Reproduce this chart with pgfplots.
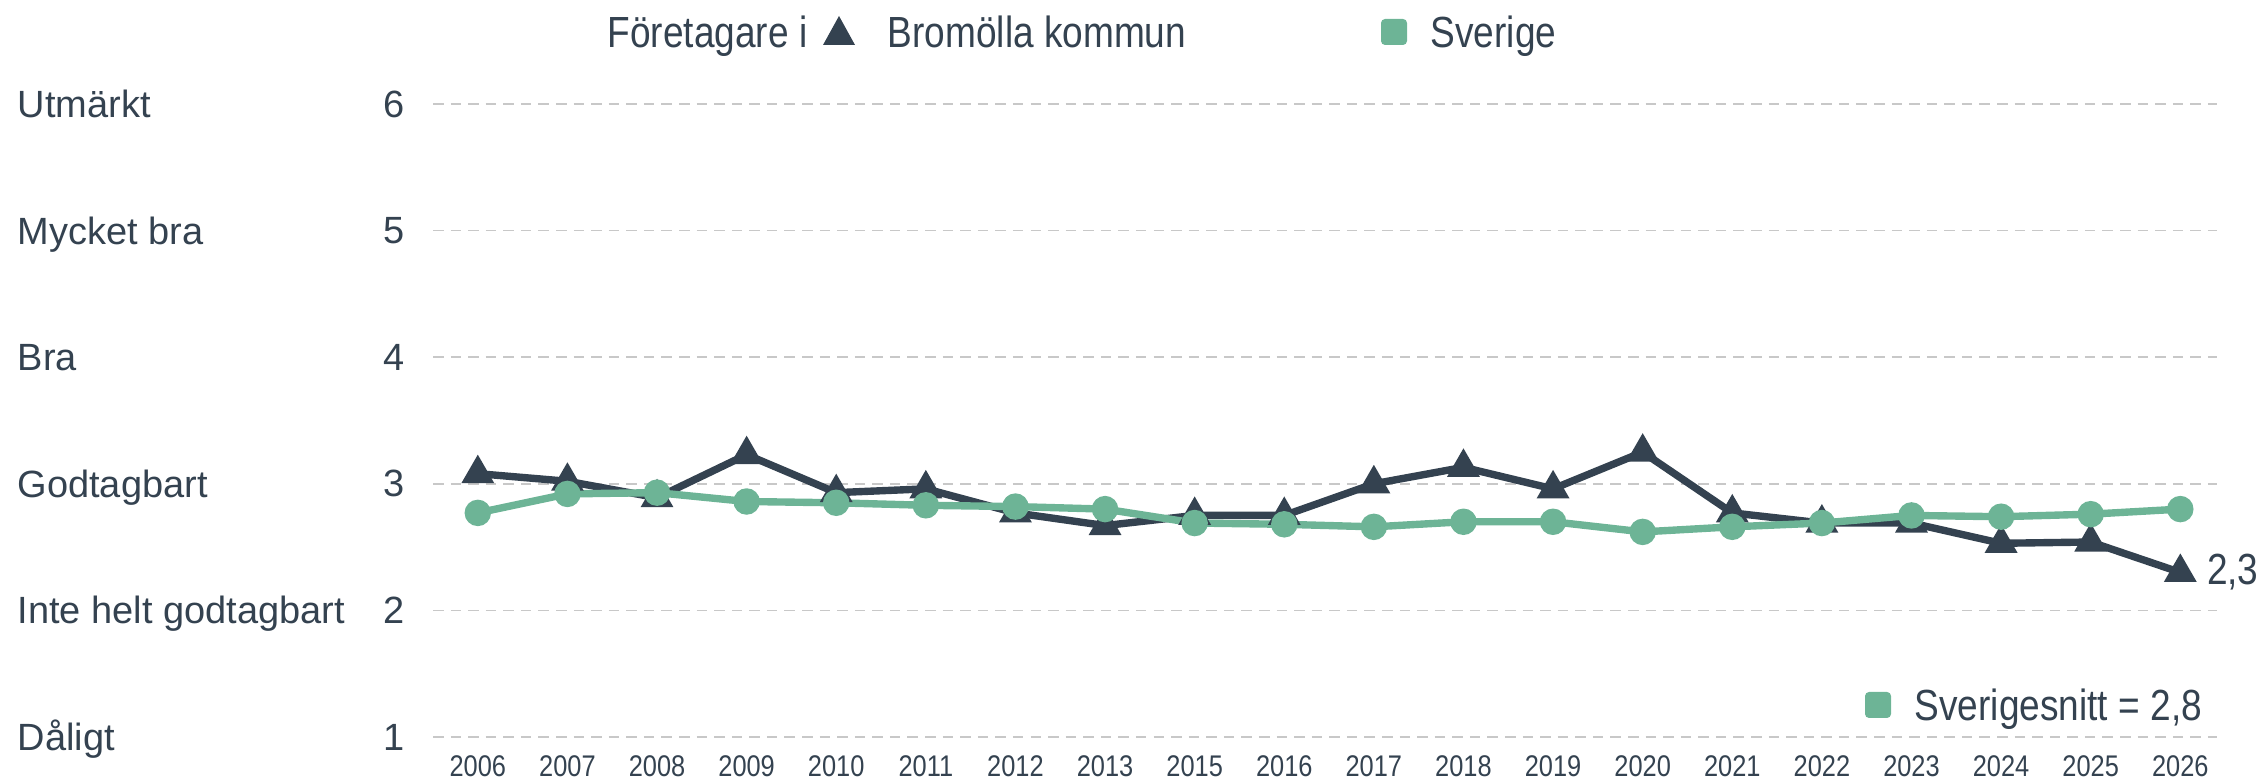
\documentclass[border=0pt]{standalone}
\usepackage{fontspec}
\setmainfont{Liberation Sans}
\newfontfamily\narrowfont[FakeStretch=0.85]{Liberation Sans}
\usepackage{pgfplots}
\pgfplotsset{compat=1.18}
\definecolor{dark}{HTML}{344250}
\definecolor{green}{HTML}{6DB496}
\definecolor{gridc}{HTML}{C8C8C8}
\begin{document}
\begin{tikzpicture}[x=1mm,y=1mm]
\useasboundingbox (0,0) rectangle (226.5,78.1);
\begin{axis}[
  at={(43.3mm,4.4mm)}, anchor=south west,
  scale only axis, width=178.4mm, height=63.3mm,
  xmin=-0.5, xmax=19.41, ymin=1, ymax=6,
  axis line style={draw=none},
  major tick length=0pt,
  ytick={1,2,3,4,5,6},
  xtick={0,...,19},
  xticklabels={2006,2007,2008,2009,2010,2011,2012,2013,2015,2016,2017,2018,2019,2020,2021,2022,2023,2024,2025,2026},
  xticklabel style={font=\narrowfont\fontsize{8.5}{10}\selectfont, text=dark, yshift=-0.6mm},
  yticklabel style={font=\fontsize{10.8}{12}\selectfont, text=dark, xshift=-1.6mm},
  /pgf/number format/assume math mode=true,
  ymajorgrids, grid style={gridc, dash pattern=on 3pt off 2pt, line width=0.5pt},
  clip=false,
]
\addplot[dark, line width=2.1pt, mark=triangle*, mark size=3.3pt, mark options={solid}] coordinates {
(0,3.08)(1,3.02)(2,2.89)(3,3.23)(4,2.93)(5,2.96)(6,2.77)(7,2.67)(8,2.75)(9,2.75)
(10,3.00)(11,3.13)(12,2.96)(13,3.25)(14,2.77)(15,2.69)(16,2.69)(17,2.53)(18,2.54)(19,2.30)};
\addplot[green, line width=2.1pt, mark=*, mark size=2.7pt, mark options={solid}] coordinates {
(0,2.77)(1,2.92)(2,2.93)(3,2.86)(4,2.85)(5,2.83)(6,2.82)(7,2.80)(8,2.69)(9,2.68)
(10,2.66)(11,2.70)(12,2.70)(13,2.62)(14,2.66)(15,2.69)(16,2.75)(17,2.74)(18,2.76)(19,2.80)};
\node[anchor=west, inner sep=0pt, xshift=2.6mm, text=dark, font=\narrowfont\fontsize{12.4}{14}\selectfont] at (axis cs:19,2.30) {2,3};
\end{axis}
% left category labels
\foreach \v/\t in {6/Utmärkt,5/Mycket bra,4/Bra,3/Godtagbart,2/Inte helt godtagbart,1/Dåligt}{
  \node[anchor=base west, inner sep=0pt, text=dark, font=\fontsize{10.8}{12}\selectfont] at (1.7, {4.4+(\v-1)*12.66-1.36}) {\t};
}
% top legend
\begin{scope}[font=\narrowfont\fontsize{12.4}{14}\selectfont, text=dark]
\node[anchor=base west, inner sep=0pt] at (60.7,73.35) {Företagare i};
\fill[dark] (82.3,73.6) -- (85.5,73.6) -- (83.9,76.5) -- cycle;
\node[anchor=base west, inner sep=0pt] at (88.7,73.35) {Bromölla kommun};
\fill[green, rounded corners=0.4mm] (138.1,73.6) rectangle (140.7,76.2);
\node[anchor=base west, inner sep=0pt] at (143.0,73.35) {Sverige};
% bottom legend
\fill[green, rounded corners=0.4mm] (186.5,6.3) rectangle (189.1,8.9);
\node[anchor=base west, inner sep=0pt] at (191.4,6.05) {Sverigesnitt = 2,8};
\end{scope}
\end{tikzpicture}
\end{document}
